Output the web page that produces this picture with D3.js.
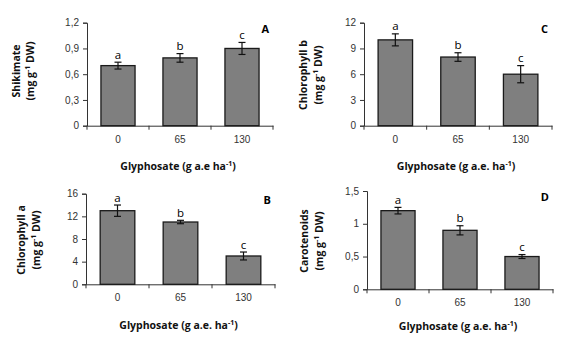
<!DOCTYPE html>
<html>
<head>
<meta charset="utf-8">
<script src="https://cdn.jsdelivr.net/npm/d3@7"></script>
<style>
  body { margin: 0; background: #fff; }
  svg { display: block; font-family: "Open Sans", "Noto Sans", sans-serif; }
  .tick text { fill: #333; }
  .domain, .tick line { stroke: #333; }
</style>
</head>
<body>
<div id="chart"></div>
<script>
// values
const doses = ["0", "65", "130"];
const letters = ["a", "b", "c"];

const shikimate = [0.70, 0.79, 0.90];
const shikimateErr = [0.04, 0.05, 0.07];
const shikimateTicks = [0, 0.3, 0.6, 0.9, 1.2];

const chlB = [10, 8, 6];
const chlBErr = [0.7, 0.5, 1.0];
const chlBTicks = [0, 3, 6, 9, 12];

const chlA = [13, 11, 5];
const chlAErr = [1.0, 0.3, 0.7];
const chlATicks = [0, 4, 8, 12, 16];

const carot = [1.2, 0.9, 0.5];
const carotErr = [0.05, 0.07, 0.03];
const carotTicks = [0, 0.5, 1, 1.5];

const width = 563, height = 342;

var svg = d3.select('#chart').append('svg')
  .attr('width', width).attr('height', height);

var panels = [
  { key: "A", vals: shikimate, err: shikimateErr, ticks: shikimateTicks, title: "Shikimate",
    xt: "Glyphosate (g a.e ha", x0: 87, x1: 273, top: 22.7, bot: 125.7, t1: 20, t2: 34, tc: 71, xtY: 170 },
  { key: "C", vals: chlB, err: chlBErr, ticks: chlBTicks, title: "Chlorophyll b",
    xt: "Glyphosate (g a.e. ha", x0: 364, x1: 552, top: 22.7, bot: 125.7, t1: 307, t2: 322, tc: 75, xtY: 170 },
  { key: "B", vals: chlA, err: chlAErr, ticks: chlATicks, title: "Chlorophyll a",
    xt: "Glyphosate (g a.e. ha", x0: 86, x1: 275, top: 193.7, bot: 284.3, t1: 25, t2: 40, tc: 240, xtY: 329 },
  { key: "D", vals: carot, err: carotErr, ticks: carotTicks, title: "Carotenoids",
    xt: "Glyphosate (g a.e. ha", x0: 367, x1: 553, top: 191, bot: 289.3, t1: 308, t2: 323, tc: 241, xtY: 330 }
];

var fmt = d => String(d).replace('.', ',');

panels.forEach(p => drawPanel(p));

function drawPanel(p) {
  let g = svg.append('g');

  let x = d3.scaleBand().domain(doses).range([p.x0, p.x1])
    .paddingInner(0.45).paddingOuter(0.225);
  let y = d3.scaleLinear().domain([0, d3.max(p.ticks)]).range([p.bot, p.top]);

  // y axis
  g.append('g').attr('transform', 'translate(' + p.x0 + ',0)')
    .call(d3.axisLeft(y).tickValues(p.ticks).tickFormat(fmt).tickSize(4).tickPadding(4))
    .call(a => a.selectAll('.tick text').style('font-size', '10px'));

  // x axis, ticks sit between the categories
  let xa = g.append('g').attr('transform', 'translate(0,' + p.bot + ')')
    .call(d3.axisBottom(x).tickSize(0).tickPadding(10));
  xa.selectAll('.tick text').style('font-size', '10px');
  let bounds = d3.range(doses.length + 1).map(i => p.x0 + i * x.step());
  xa.selectAll('line.sep').data(bounds).enter().append('line')
    .attr('class', 'sep')
    .attr('x1', d => d).attr('x2', d => d)
    .attr('y1', 0).attr('y2', 4)
    .attr('stroke', '#333');

  // bars
  g.selectAll('rect.bar').data(p.vals).enter().append('rect')
    .attr('class', 'bar')
    .attr('x', (d, i) => x(doses[i]))
    .attr('y', d => y(d))
    .attr('width', x.bandwidth())
    .attr('height', d => y(0) - y(d))
    .attr('fill', '#7f7f7f')
    .attr('stroke', '#1a1a1a')
    .attr('stroke-width', 1.3);

  // error bars
  let eb = g.selectAll('g.err').data(p.vals).enter().append('g').attr('class', 'err')
    .attr('transform', (d, i) => 'translate(' + (x(doses[i]) + x.bandwidth() / 2) + ',0)');
  eb.append('line')
    .attr('y1', (d, i) => y(d - p.err[i])).attr('y2', (d, i) => y(d + p.err[i]));
  eb.append('line').attr('x1', -3.5).attr('x2', 3.5)
    .attr('y1', (d, i) => y(d - p.err[i])).attr('y2', (d, i) => y(d - p.err[i]));
  eb.append('line').attr('x1', -3.5).attr('x2', 3.5)
    .attr('y1', (d, i) => y(d + p.err[i])).attr('y2', (d, i) => y(d + p.err[i]));
  eb.selectAll('line').attr('stroke', '#111').attr('stroke-width', 1.2);

  // significance letters
  eb.append('text')
    .attr('y', (d, i) => y(d + p.err[i]) - 3.5)
    .attr('text-anchor', 'middle')
    .style('font-size', '11.5px').style('fill', '#000')
    .text((d, i) => letters[i]);

  // panel letter
  g.append('text').attr('x', p.x1 - 4).attr('y', p.top + 10)
    .attr('text-anchor', 'end')
    .style('font-size', '11px').style('font-weight', 'bold')
    .text(p.key);

  // y title, two lines
  let yt = g.append('text').attr('text-anchor', 'middle')
    .style('font-size', '10.5px').style('font-weight', 'bold').attr('fill', '#111');
  yt.append('tspan').attr('x', -p.tc).attr('y', p.t1).text(p.title);
  let l2 = g.append('text').attr('text-anchor', 'middle')
    .style('font-size', '10.5px').style('font-weight', 'bold').attr('fill', '#111')
    .attr('x', -p.tc).attr('y', p.t2);
  l2.append('tspan').text('(mg g');
  l2.append('tspan').attr('dy', -4).style('font-size', '7px').text('-1');
  l2.append('tspan').attr('dy', 4).text(' DW)');
  yt.attr('transform', 'rotate(-90)');
  l2.attr('transform', 'rotate(-90)');

  // x title
  let xt = g.append('text').attr('x', (p.x0 + p.x1) / 2 - 2).attr('y', p.xtY)
    .attr('text-anchor', 'middle')
    .style('font-size', '10.5px').style('font-weight', 'bold').attr('fill', '#111');
  xt.append('tspan').text(p.xt);
  xt.append('tspan').attr('dy', -4).style('font-size', '7px').text('-1');
  xt.append('tspan').attr('dy', 4).text(')');
}
</script>
</body>
</html>
